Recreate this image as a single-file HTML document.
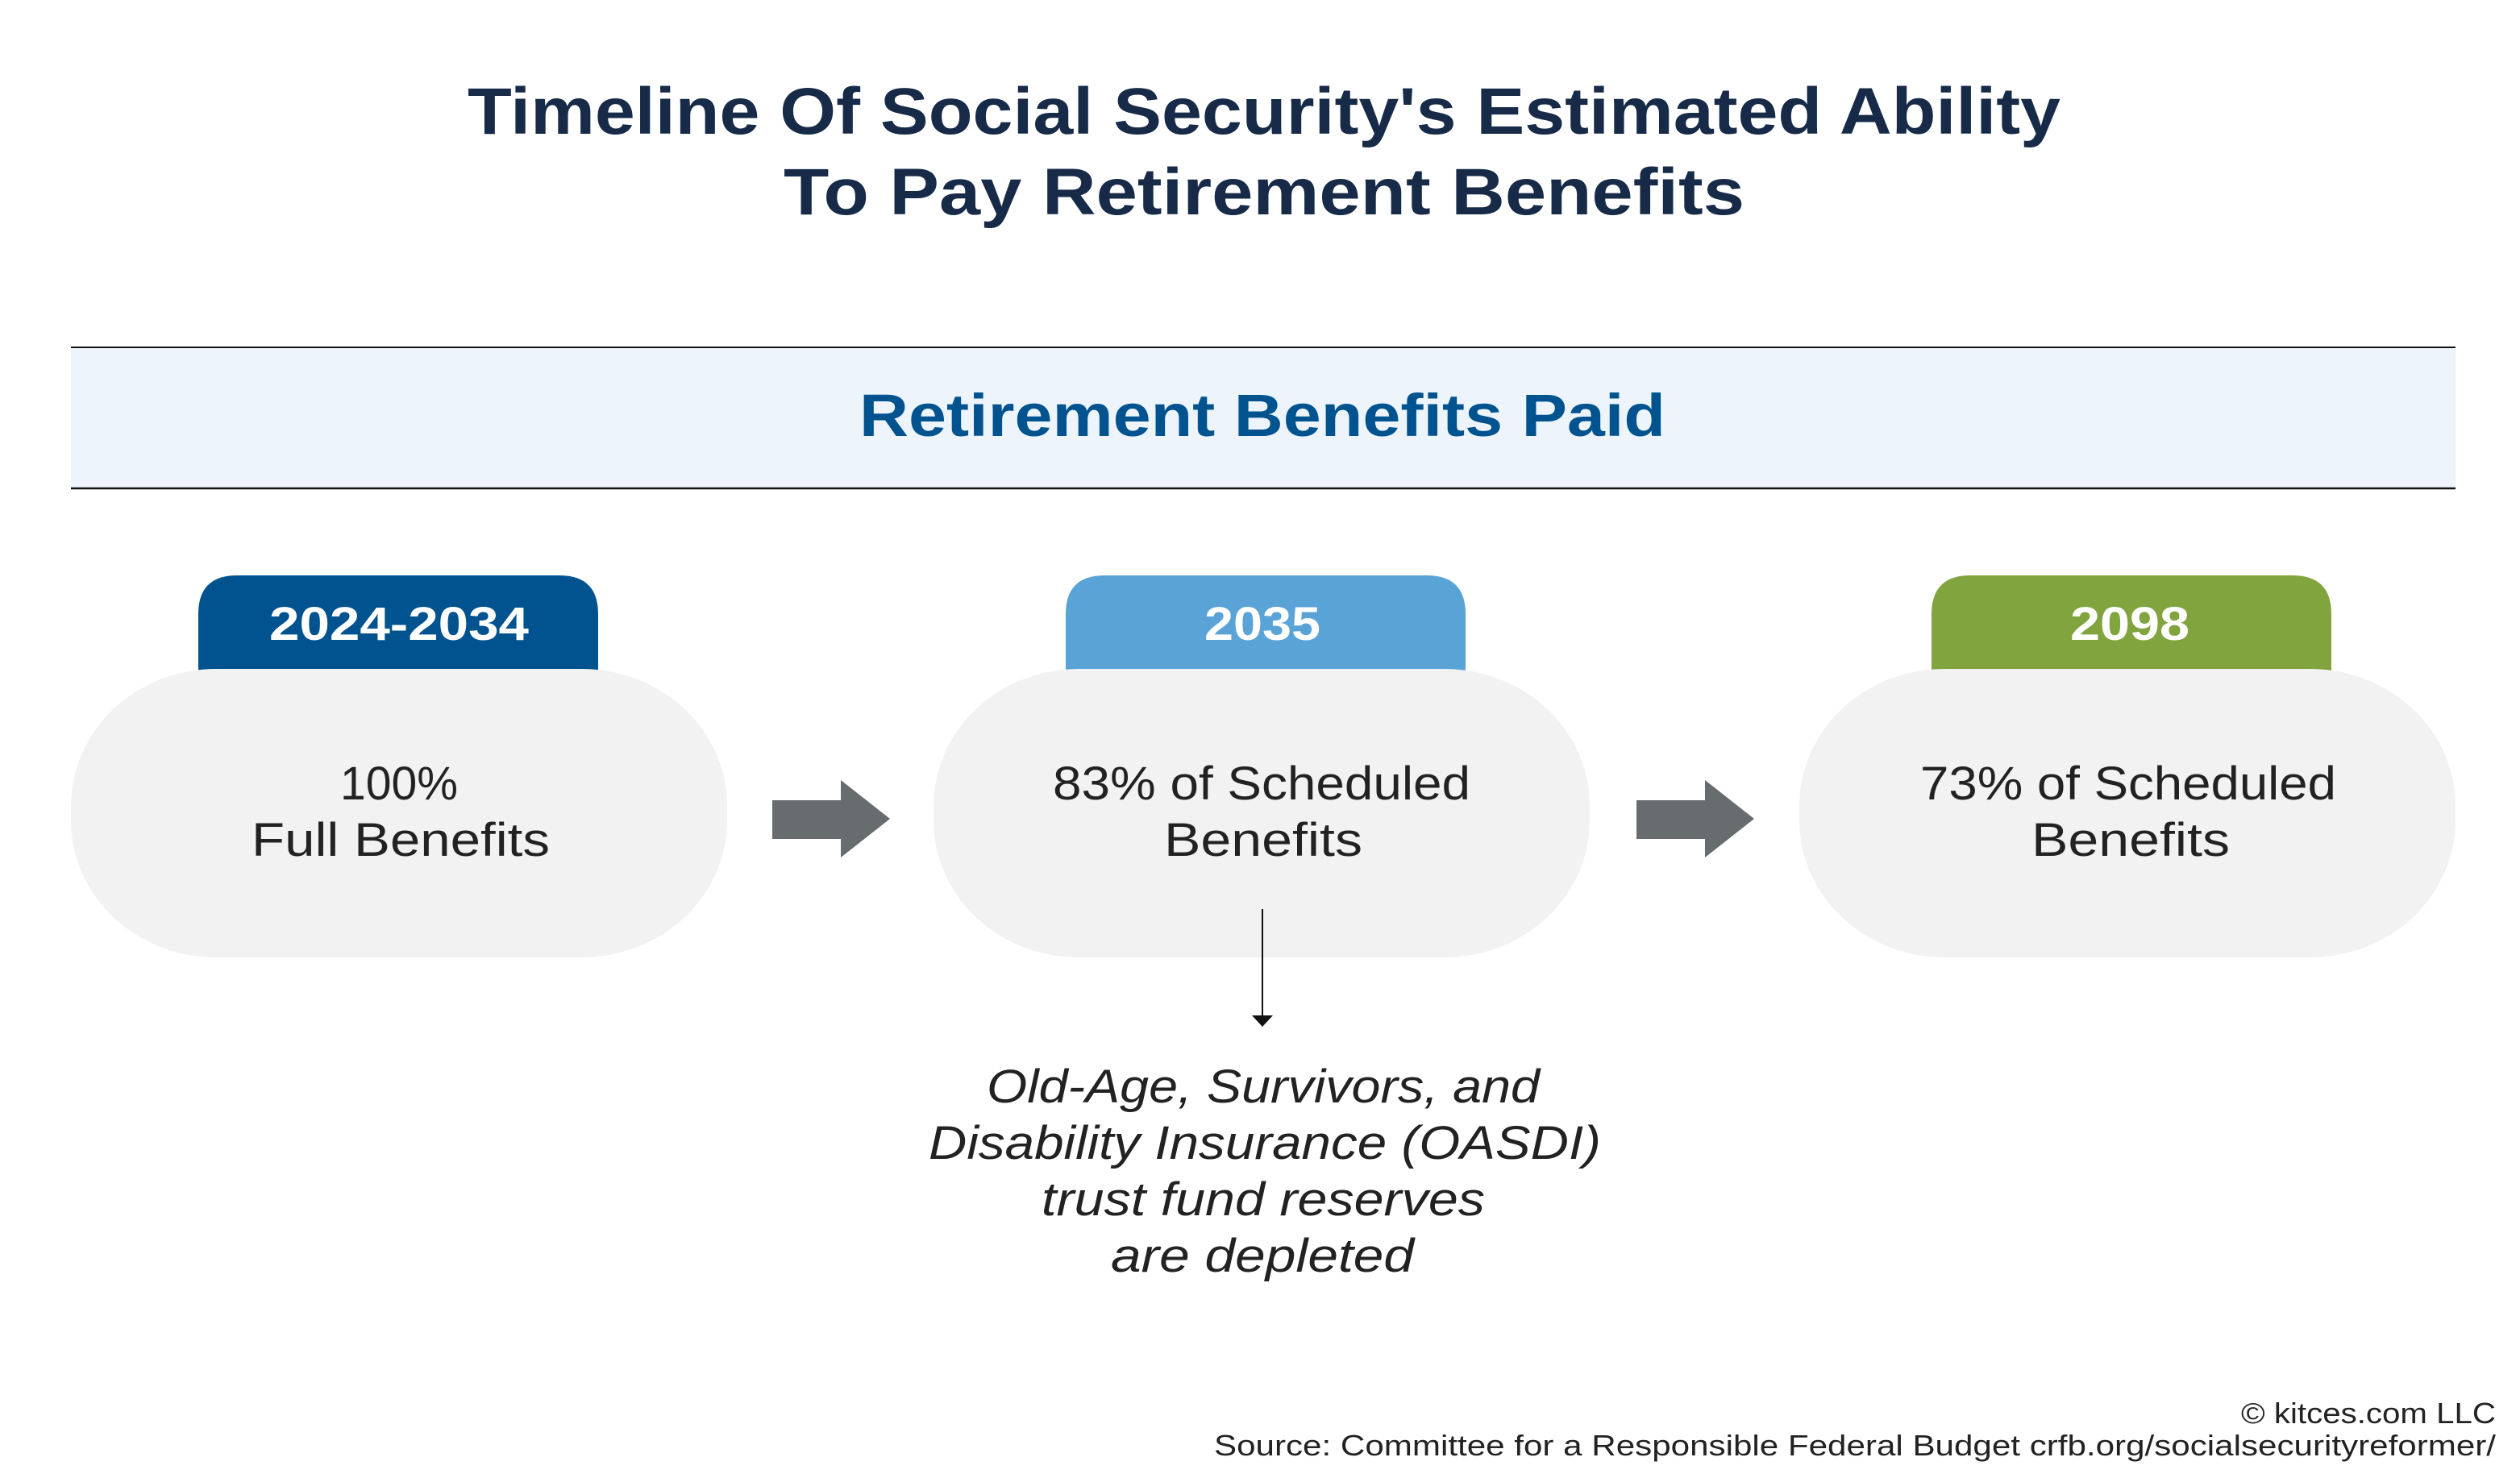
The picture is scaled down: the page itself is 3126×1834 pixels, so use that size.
<!DOCTYPE html>
<html><head><meta charset="utf-8"><style>
html,body{margin:0;padding:0;background:#fff;}
svg{display:block;}
text{font-family:"Liberation Sans",sans-serif;}
</style></head><body>
<svg width="3126" height="1834" viewBox="0 0 3126 1834" xmlns="http://www.w3.org/2000/svg">
<rect width="3126" height="1834" fill="#fff"/>
<g fill="#172b48" font-weight="bold" font-size="82">
<text x="580" y="166" textLength="1976" lengthAdjust="spacingAndGlyphs">Timeline Of Social Security's Estimated Ability</text>
<text x="972" y="266" textLength="1192" lengthAdjust="spacingAndGlyphs">To Pay Retirement Benefits</text>
</g>
<rect x="88" y="431" width="2958" height="175" fill="#edf4fb"/>
<line x1="88" y1="431" x2="3046" y2="431" stroke="#111" stroke-width="2"/>
<line x1="88" y1="606" x2="3046" y2="606" stroke="#111" stroke-width="2.5"/>
<text x="1066" y="541" font-size="74" font-weight="bold" fill="#00538f" textLength="1000" lengthAdjust="spacingAndGlyphs">Retirement Benefits Paid</text>

<path d="M246 832 V762 Q246 714 294 714 H694 Q742 714 742 762 V832 Z" fill="#00538f"/>
<path d="M1322 832 V762 Q1322 714 1370 714 H1770 Q1818 714 1818 762 V832 Z" fill="#5aa3d7"/>
<path d="M2396 832 V762 Q2396 714 2444 714 H2844 Q2892 714 2892 762 V832 Z" fill="#81a43e"/>
<g fill="#fff" font-weight="bold" font-size="58">
<text x="334" y="794" textLength="322" lengthAdjust="spacingAndGlyphs">2024-2034</text>
<text x="1494" y="794" textLength="144" lengthAdjust="spacingAndGlyphs">2035</text>
<text x="2568" y="794" textLength="148" lengthAdjust="spacingAndGlyphs">2098</text>
</g>

<rect x="88" y="830" width="814" height="358" rx="180" ry="170" fill="#f2f2f2"/>
<rect x="1158" y="830" width="814" height="358" rx="180" ry="170" fill="#f2f2f2"/>
<rect x="2232" y="830" width="814" height="358" rx="180" ry="170" fill="#f2f2f2"/>

<g fill="#222" font-size="58">
<text x="422" y="992" textLength="146" lengthAdjust="spacingAndGlyphs">100%</text>
<text x="312" y="1062" textLength="370" lengthAdjust="spacingAndGlyphs">Full Benefits</text>
<text x="1306" y="992" textLength="518" lengthAdjust="spacingAndGlyphs">83% of Scheduled</text>
<text x="1444" y="1062" textLength="246" lengthAdjust="spacingAndGlyphs">Benefits</text>
<text x="2382" y="992" textLength="516" lengthAdjust="spacingAndGlyphs">73% of Scheduled</text>
<text x="2520" y="1062" textLength="246" lengthAdjust="spacingAndGlyphs">Benefits</text>
</g>

<polygon points="958,993 1043,993 1043,968 1104,1016 1043,1064 1043,1041 958,1041" fill="#676c6f"/>
<polygon points="2030,993 2115,993 2115,968 2176,1016 2115,1064 2115,1041 2030,1041" fill="#676c6f"/>

<line x1="1566" y1="1128" x2="1566" y2="1262" stroke="#111" stroke-width="2"/>
<polygon points="1553,1260 1579,1260 1566,1274" fill="#111"/>

<g fill="#222" font-size="58" font-style="italic">
<text x="1224" y="1368" textLength="686" lengthAdjust="spacingAndGlyphs">Old-Age, Survivors, and</text>
<text x="1152" y="1438" textLength="834" lengthAdjust="spacingAndGlyphs">Disability Insurance (OASDI)</text>
<text x="1292" y="1508" textLength="550" lengthAdjust="spacingAndGlyphs">trust fund reserves</text>
<text x="1378" y="1578" textLength="376" lengthAdjust="spacingAndGlyphs">are depleted</text>
</g>

<g fill="#222" font-size="36">
<text x="2780" y="1766" textLength="316" lengthAdjust="spacingAndGlyphs">© kitces.com LLC</text>
<text x="1506" y="1806" textLength="1590" lengthAdjust="spacingAndGlyphs">Source: Committee for a Responsible Federal Budget crfb.org/socialsecurityreformer/</text>
</g>
</svg>
</body></html>
